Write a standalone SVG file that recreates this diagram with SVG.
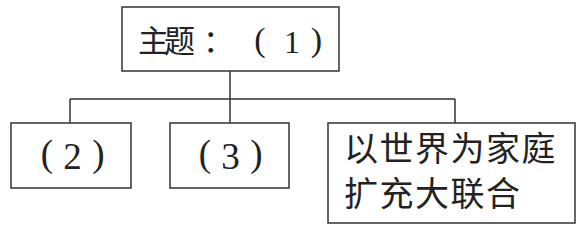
<svg xmlns="http://www.w3.org/2000/svg" width="583" height="228" viewBox="0 0 583 228">
<style>
.box{fill:#fff;stroke:#333;stroke-width:1.5}
.ln{fill:none;stroke:#333;stroke-width:1.5}
text{fill:#222;text-anchor:middle}
.cjk{font-family:"Noto Sans CJK SC",serif}
.ser{font-family:"Liberation Serif","Noto Sans CJK SC",serif}
</style>
<rect width="583" height="228" fill="#fff"/>
<g id="connectors">
<path class="ln" d="M230,71 V99 M70,99 H455 M70,99 V123 M230,99 V123 M455,99 V123"/>
</g>
<g id="n1">
<rect class="box" x="122" y="7" width="217" height="64"/>
<text x="153.5 179.5 218.5 260 292 316.5" y="52 52 52 51 53 51"><tspan class="cjk" font-size="31">主题：</tspan><tspan class="ser" font-size="34">(</tspan><tspan class="ser" font-size="32">1</tspan><tspan class="ser" font-size="34">)</tspan></text>
</g>
<g id="n2">
<rect class="box" x="11" y="123" width="120" height="65"/>
<text class="ser" x="47 72.5 98.5" y="166 169 166" font-size="37">(2)</text>
</g>
<g id="n3">
<rect class="box" x="170" y="123" width="119" height="65"/>
<text class="ser" x="205 230.5 256.5" y="166 169 166" font-size="37">(3)</text>
</g>
<g id="n4">
<rect class="box" x="328" y="123" width="247" height="100"/>
<text class="cjk" x="344" y="161" font-size="34" letter-spacing="1.5" style="text-anchor:start">以世界为家庭</text>
<text class="cjk" x="344" y="206" font-size="34" letter-spacing="1.5" style="text-anchor:start">扩充大联合</text>
</g>
</svg>
